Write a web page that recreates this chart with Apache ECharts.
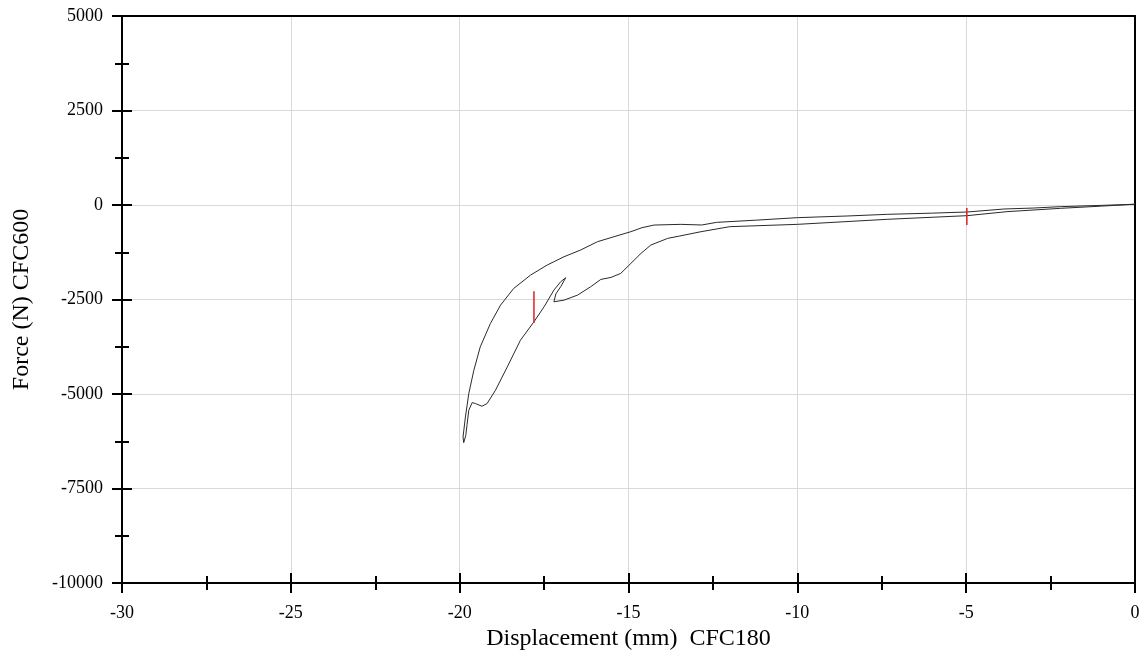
<!DOCTYPE html>
<html><head><meta charset="utf-8">
<script src="https://cdn.jsdelivr.net/npm/echarts@6/dist/echarts.min.js"></script>
<style>html,body{margin:0;padding:0;background:#fff}#c{width:1142px;height:652px}</style>
</head><body><div id="c"></div>
<script>
// Hysteresis loop: displacement (mm) and force (N)
const dispLoop = [0, -1, -2.2, -3.0, -3.88, -4.97, -6.0, -7.34, -8.5, -10.0, -11.2, -12.39, -12.83, -13.45, -14.24, -14.6, -14.93, -15.43, -15.92, -16.42, -16.91, -17.41, -17.90, -18.40, -18.79, -19.09, -19.39, -19.58, -19.73, -19.83, -19.90, -19.88,
  -19.82, -19.78, -19.73, -19.63, -19.53, -19.34, -19.19, -18.94, -18.59, -18.20, -17.80, -17.50, -17.21, -17.01, -16.86,
  -17.0, -17.15, -17.21, -16.91, -16.51, -16.12, -15.82, -15.52, -15.23, -14.93, -14.63, -14.34, -13.84, -13.48, -12.85, -12.0, -10.0, -7.34, -4.97, -3.79, -2.2, -1.0, 0];
const forceLoop = [20, -10, -44, -80, -106, -185, -215, -247, -290, -335, -400, -459, -529, -512, -530, -600, -706, -839, -971, -1192, -1369, -1589, -1854, -2207, -2649, -3135, -3753, -4371, -4989, -5607, -6137, -6287,
  -6100, -5800, -5430, -5227, -5254, -5324, -5254, -4901, -4283, -3576, -3090, -2693, -2252, -2031, -1925,
  -2150, -2350, -2561, -2517, -2384, -2163, -1969, -1916, -1810, -1545, -1280, -1060, -883, -820, -706, -573, -512, -379, -282, -176, -88, -30, 20];
// Red markers
const mark1Disp = [-17.8, -17.8];
const mark1Force = [-2280, -3120];
const mark2Disp = [-4.98, -4.98];
const mark2Force = [-80, -530];
// Axis settings
const xMin = -30, xMax = 0, xStep = 5;
const yMin = -10000, yMax = 5000, yStep = 2500;

const pairs = (a, b) => a.map((v, i) => [v, b[i]]);
const font = 'Liberation Serif';
const GL = 122, GR = 7, GT = 16, GB = 69, W = 1142, H = 652;
const gridW = W - GL - GR, gridH = H - GT - GB;
const chart = echarts.init(document.getElementById('c'));
const tickStyle = { color: '#000', width: 2 };
const borderAxis = (min, max, interval, position) => ({
  type: 'value', min, max, interval, position,
  axisLine: { show: true, onZero: false, lineStyle: { color: '#000', width: 2 } },
  axisTick: { show: false }, minorTick: { show: false },
  axisLabel: { show: false }, splitLine: { show: false },
});
chart.setOption({
  animation: false,
  backgroundColor: '#fff',
  grid: { left: GL, right: GR, top: GT, bottom: GB, show: false, containLabel: false, outerBoundsMode: 'none' },
  xAxis: [
    {
      type: 'value', min: xMin, max: xMax, interval: xStep, position: 'bottom',
      axisLine: { show: true, onZero: false, lineStyle: { color: '#000', width: 2 } },
      axisTick: { show: true, length: 10, lineStyle: tickStyle },
      minorTick: { show: true, splitNumber: 2, length: 7, lineStyle: tickStyle },
      name: 'Displacement (mm)  CFC180', nameLocation: 'middle', nameGap: 43,
      nameTextStyle: { fontFamily: font, fontSize: 24, color: '#000' },
      axisLabel: { fontFamily: font, fontSize: 18, color: '#000', margin: 21, formatter: v => String(v) },
      splitLine: { show: true, lineStyle: { color: '#d9d9d9', width: 1 } },
    },
    {
      type: 'value', min: xMin, max: xMax, interval: xStep, position: 'top', offset: -gridH,
      axisLine: { show: false, onZero: false },
      axisTick: { show: true, length: 10, lineStyle: tickStyle },
      minorTick: { show: true, splitNumber: 2, length: 7, lineStyle: tickStyle },
      axisLabel: { show: false }, splitLine: { show: false },
    },
    borderAxis(xMin, xMax, xStep, 'top')
  ],
  yAxis: [
    {
      type: 'value', min: yMin, max: yMax, interval: yStep, position: 'left',
      axisLine: { show: true, onZero: false, lineStyle: { color: '#000', width: 2 } },
      axisTick: { show: true, length: 10, lineStyle: tickStyle },
      minorTick: { show: true, splitNumber: 2, length: 7, lineStyle: tickStyle },
      name: 'Force (N) CFC600', nameLocation: 'middle', nameGap: 88, nameRotate: 90,
      nameTextStyle: { fontFamily: font, fontSize: 24, color: '#000' },
      axisLabel: { fontFamily: font, fontSize: 18, color: '#000', margin: 19, formatter: v => String(v) },
      splitLine: { show: true, lineStyle: { color: '#d9d9d9', width: 1 } },
    },
    {
      type: 'value', min: yMin, max: yMax, interval: yStep, position: 'right', offset: -gridW,
      axisLine: { show: false, onZero: false },
      axisTick: { show: true, length: 10, lineStyle: tickStyle },
      minorTick: { show: true, splitNumber: 2, length: 7, lineStyle: tickStyle },
      axisLabel: { show: false }, splitLine: { show: false },
    },
    borderAxis(yMin, yMax, yStep, 'right')
  ],
  series: [
    { type: 'line', xAxisIndex: 0, yAxisIndex: 0, data: pairs(dispLoop, forceLoop), showSymbol: false, symbol: 'none', lineStyle: { color: '#2a2a2a', width: 1 } },
    { type: 'line', xAxisIndex: 0, yAxisIndex: 0, data: pairs(mark1Disp, mark1Force), showSymbol: false, symbol: 'none', lineStyle: { color: '#e02020', width: 1.5 } },
    { type: 'line', xAxisIndex: 0, yAxisIndex: 0, data: pairs(mark2Disp, mark2Force), showSymbol: false, symbol: 'none', lineStyle: { color: '#e02020', width: 1.5 } }
  ]
});
</script></body></html>
